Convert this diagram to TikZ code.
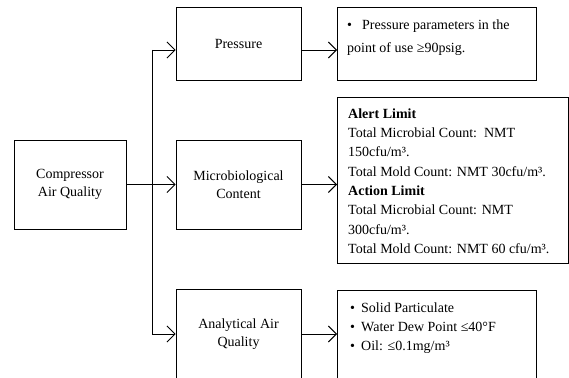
\documentclass[tikz,border=0pt]{standalone}
\usepackage{fontspec}
\setmainfont{Liberation Serif}
\usetikzlibrary{arrows.meta}
\begin{document}
\begin{tikzpicture}[x=1pt,y=-1pt,
    box/.style={draw,line width=0.9pt,inner sep=0pt,align=center,
      font=\fontsize{14}{18}\selectfont},
    infobox/.style={draw,line width=0.9pt,inner sep=0pt,anchor=north west},
    infotext/.style={inner sep=0pt,anchor=north west,align=left,
      font=\fontsize{14}{19.3}\selectfont},
    arr/.style={-{Straight Barb[length=8pt,width=16pt]},line width=0.9pt}]
       \useasboundingbox (0,0) rectangle (569,377);
       \clip (0,0) rectangle (569,377);
       % left column
       \node[box,minimum width=112pt,minimum height=89pt] (comp) at (70,184.5) {Compressor\\Air Quality};
       % middle column
       \node[box,minimum width=125pt,minimum height=73pt] (press) at (238.5,43.5) {Pressure};
       \node[box,minimum width=125pt,minimum height=89pt] (micro) at (238.5,184.5) {Microbiological\\Content};
       \node[box,minimum width=125pt,minimum height=90pt] (anal) at (238.5,334) {Analytical Air\\Quality};
       % right column
       \node[infobox,minimum width=199pt,minimum height=73pt] (pinfo) at (337,7) {};
       \node[infobox,minimum width=231pt,minimum height=166pt] (minfo) at (337,97) {};
       \node[infobox,minimum width=199pt,minimum height=100pt] (ainfo) at (337,290) {};
       \node[infotext] (ptext) at (347,19.3) {\makebox[15pt][l]{•}Pressure parameters in the\\[3.5pt]point of use ≥90psig.};
       \node[infotext] (mtext) at (348,108.3) {\textbf{Alert Limit}\\
         Total Microbial Count:\ \ NMT\\
         150cfu/m³.\\
         Total Mold Count: NMT 30cfu/m³.\\
         \textbf{Action Limit}\\
         Total Microbial Count: NMT\\
         300cfu/m³.\\
         Total Mold Count: NMT 60 cfu/m³.};
       \node[infotext] (atext) at (350,302.3) {\makebox[11pt][l]{•}Solid Particulate\\
         \makebox[11pt][l]{•}Water Dew Point ≤40°F\\
         \makebox[11pt][l]{•}Oil: ≤0.1mg/m³};
       % connectors
       \coordinate (jt) at (152,50);
       \coordinate (jb) at (152,334);
       \draw [line width=0.9pt] (jt) -- (jb);
       \draw [arr] (comp) -- (micro);
       \draw [arr] (jt) -- (press.west |- jt);
       \draw [arr] (jb) -- (anal.west |- jb);
       \draw [arr] (press.east |- jt) -- (pinfo.west |- jt);
       \draw [arr] (micro.east) -- (minfo.west |- micro.east);
       \draw [arr] (anal.east) -- (ainfo.west |- anal.east);
     \end{tikzpicture}
\end{document}
